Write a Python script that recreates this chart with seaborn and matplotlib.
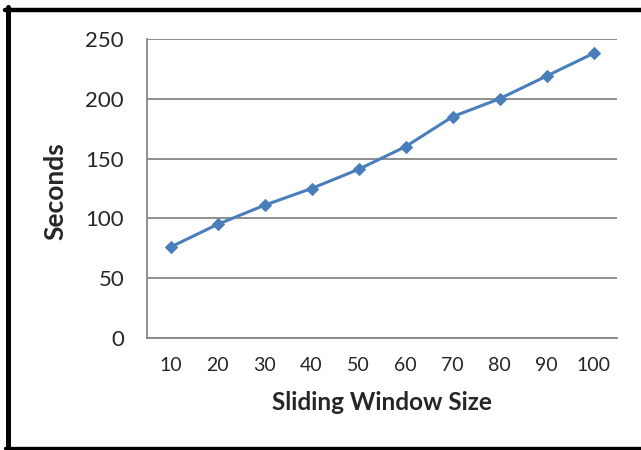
import pandas as pd
import matplotlib.pyplot as plt
import seaborn as sns
from matplotlib.lines import Line2D
from matplotlib.ticker import FixedLocator

window_sizes = ['10', '20', '30', '40', '50', '60', '70', '80', '90', '100']
seconds = [76, 95, 111, 125, 141, 160, 185, 200, 219, 238]
y_ticks = [0, 50, 100, 150, 200, 250]

df = pd.DataFrame({'Sliding Window Size': window_sizes, 'Seconds': seconds})

sns.set_style('white')
plt.rcParams['font.family'] = ['Lato', 'DejaVu Sans']

W, H = 641, 450
fig = plt.figure(figsize=(W / 100, H / 100), dpi=100)
ax = fig.add_axes([147 / W, 1 - 338 / H, (617 - 147) / W, (338 - 39) / H])

grid_col = '#868686'
sns.lineplot(data=df, x='Sliding Window Size', y='Seconds', ax=ax, sort=False,
             color='#4A7EBB', linewidth=2.2, marker='D', markersize=6,
             markeredgecolor='#4A7EBB')

ax.set_xlim(-0.5, len(window_sizes) - 0.5)
ax.set_ylim(0, 250)
ax.set_yticks(y_ticks)
ax.yaxis.grid(True, color=grid_col, linewidth=1.3)
ax.set_axisbelow(True)

for s in ['top', 'right']:
    ax.spines[s].set_visible(False)
for s in ['left', 'bottom']:
    ax.spines[s].set_color(grid_col)
    ax.spines[s].set_linewidth(1.3)

ax.xaxis.set_minor_locator(FixedLocator([i - 0.5 for i in range(len(window_sizes) + 1)]))
ax.tick_params(axis='x', which='major', length=0, pad=14, labelsize=14)
ax.tick_params(axis='x', which='minor', length=6, width=1.3, color=grid_col, direction='out')
ax.tick_params(axis='y', which='major', length=6.5, width=1.3, color=grid_col,
               direction='out', labelsize=16, pad=10)

ax.set_xlabel('Sliding Window Size', fontsize=17.5, fontweight='bold')
ax.set_ylabel('Seconds', fontsize=19, fontweight='bold')
ax.xaxis.set_label_coords(0.5, (338 - 391) / 299)
ax.yaxis.set_label_coords((67 - 147) / 470, 0.49)

# black frame around the chart (right side is cut off)
fig.lines.append(Line2D([7.5 / W, 7.5 / W], [1 - 7 / H, 1 - 449 / H], transform=fig.transFigure,
                        color='black', linewidth=3.6))
fig.lines.append(Line2D([5 / W, 1], [1 - 9.5 / H, 1 - 9.5 / H], transform=fig.transFigure,
                        color='black', linewidth=3.2))
fig.lines.append(Line2D([5 / W, 1], [1 - 447.5 / H, 1 - 447.5 / H], transform=fig.transFigure,
                        color='black', linewidth=2.4))

fig.savefig('out.png', dpi=100)
